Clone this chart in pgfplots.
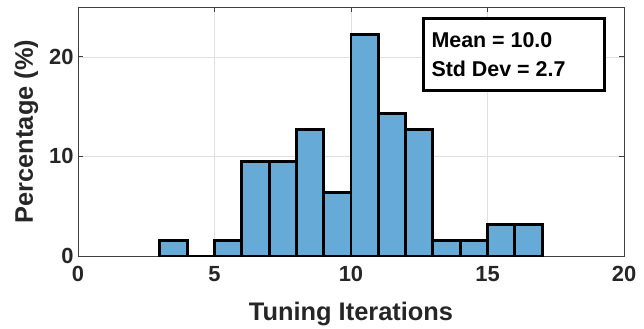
\documentclass[border=0pt]{standalone}
\usepackage{pgfplots}
\pgfplotsset{compat=1.18}
\usepackage{fontspec}
\setmainfont{Liberation Sans}
\definecolor{barfill}{RGB}{102,170,215}
\definecolor{axgray}{RGB}{64,64,64}
\begin{document}
\begin{tikzpicture}
\useasboundingbox (-78bp,-73bp) rectangle (566bp,256bp);
\begin{axis}[at={(0,0)}, anchor=south west, scale only axis,
  width=546bp, height=249bp,
  xmin=0, xmax=20, ymin=0, ymax=25,
  xtick={0,5,10,15,20}, ytick={0,10,20},
  grid=major, grid style={black!12, line width=0.5pt},
  axis line style={axgray, line width=0.8pt},
  tick style={axgray, line width=0.8pt},
  tick align=inside, major tick length=5bp,
  clip=false,
  /pgf/number format/assume math mode=true,
  ticklabel style={font=\bfseries\fontsize{22}{22}\selectfont, text=black!85},
  xticklabel style={yshift=-7bp},
  yticklabel style={xshift=-1bp},
  xlabel={Tuning Iterations}, ylabel={Percentage (\%)},
  label style={font=\bfseries\fontsize{25.5}{25.5}\selectfont, text=black!85},
  xlabel style={yshift=-13bp},
  ylabel style={yshift=4bp}]
\addplot[ybar interval, fill=barfill, draw=black, line width=3pt] coordinates {
(3,1.587) (4,0) (5,1.587) (6,9.524) (7,9.524) (8,12.698) (9,6.349) (10,22.222) (11,14.286) (12,12.698) (13,1.587) (14,1.587) (15,3.175) (16,3.175) (17,3.175)};
\addplot[black, line width=3pt, mark=none] coordinates {(4,0) (5,0)};
\node[draw=black, line width=3pt, fill=white, anchor=north west, minimum width=181bp, minimum height=72bp, inner sep=0pt] (box) at (axis cs:12.6,24.0) {};
\node[anchor=west, align=left, font=\bfseries\fontsize{21.5}{29}\selectfont, text=black] at ([xshift=6bp]box.west) {Mean = 10.0\\Std Dev = 2.7};
\end{axis}
\end{tikzpicture}
\end{document}
